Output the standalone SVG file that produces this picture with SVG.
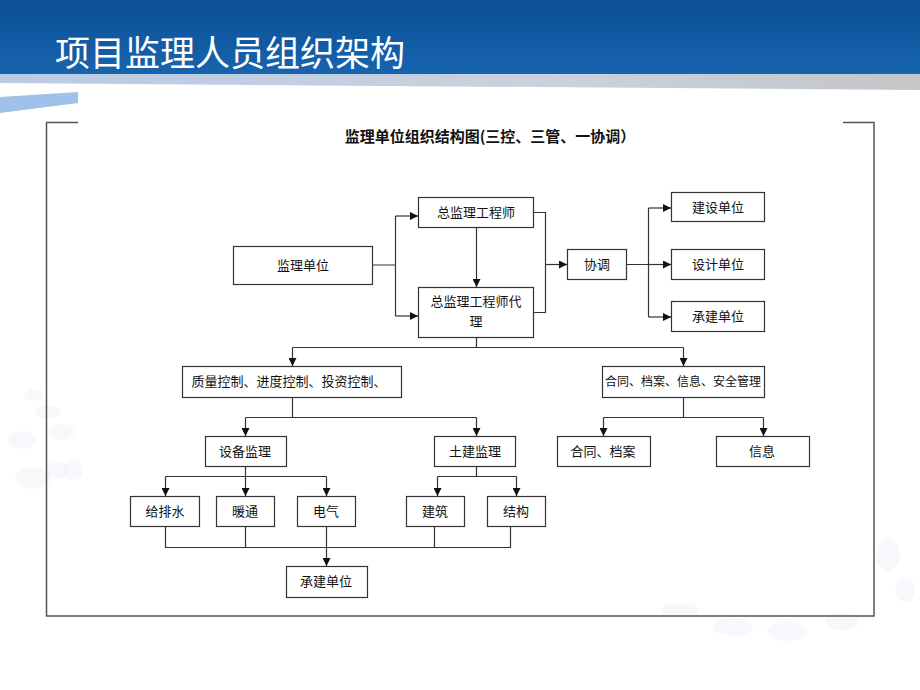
<svg xmlns="http://www.w3.org/2000/svg" width="920" height="690" viewBox="0 0 920 690">
<defs>
<linearGradient id="hdr" x1="0" y1="0" x2="0" y2="1">
<stop offset="0" stop-color="#0b4f96"/>
<stop offset="1" stop-color="#1764ae"/>
</linearGradient>
<linearGradient id="strip" x1="0" y1="0" x2="1" y2="0">
<stop offset="0" stop-color="#b9cbe3"/>
<stop offset="0.6" stop-color="#c9d2de"/>
<stop offset="1" stop-color="#c4c6c8"/>
</linearGradient>
<marker id="arr" viewBox="0 0 8 8" refX="8" refY="4" markerWidth="8" markerHeight="8" markerUnits="userSpaceOnUse" orient="auto">
<path d="M0,0 L8,4 L0,8 Z" fill="#111"/>
</marker>
</defs>
<style>
.box{fill:#fff;stroke:#333;stroke-width:1.2}
.t{font-family:"Noto Sans CJK SC","Noto Sans",sans-serif;font-size:13px;fill:#111;text-anchor:middle}
.ln{fill:none;stroke:#333;stroke-width:1.2}
.ar{fill:none;stroke:#333;stroke-width:1.2;marker-end:url(#arr)}
.frame{fill:none;stroke:#555;stroke-width:1.5}
.dot{fill:#eef2f8;opacity:0.5}
</style>
<rect width="920" height="690" fill="#fff"/>
<!-- header -->
<polygon points="0,0 920,0 920,90 0,83" fill="url(#strip)"/>
<rect x="0" y="0" width="920" height="74" fill="url(#hdr)"/>
<polygon points="0,97 78,92 78,103 0,113" fill="#9fc2ea"/>
<text x="55" y="66" font-family="'Noto Sans CJK SC','Noto Sans',sans-serif" font-size="35" fill="#fff">项目监理人员组织架构</text>
<!-- faint decoration -->
<g>
<ellipse class="dot" cx="22" cy="440" rx="14" ry="9"/>
<ellipse class="dot" cx="33" cy="478" rx="18" ry="11"/>
<ellipse class="dot" cx="58" cy="470" rx="12" ry="8"/>
<ellipse class="dot" cx="34" cy="395" rx="10" ry="6"/>
<ellipse class="dot" cx="48" cy="412" rx="12" ry="7"/>
<ellipse class="dot" cx="62" cy="432" rx="12" ry="8"/>
<ellipse class="dot" cx="73" cy="470" rx="10" ry="10"/>
<ellipse class="dot" cx="680" cy="610" rx="18" ry="7"/>
<ellipse class="dot" cx="733" cy="627" rx="20" ry="9"/>
<ellipse class="dot" cx="787" cy="631" rx="20" ry="10"/>
<ellipse class="dot" cx="842" cy="621" rx="17" ry="9"/>
<ellipse class="dot" cx="888" cy="555" rx="12" ry="16"/>
<ellipse class="dot" cx="905" cy="590" rx="10" ry="12"/>
</g>
<!-- frame -->
<path class="frame" d="M78,122.5 H46.5 V616 H874 V122.5 H843"/>
<text x="490" y="142" font-family="'Noto Sans CJK SC','Noto Sans',sans-serif" font-size="15" font-weight="bold" fill="#111" text-anchor="middle">监理单位组织结构图(三控、三管、一协调）</text>
<!-- connectors -->
<g id="connectors">
<path class="ln" d="M372,265 H395.5 M395.5,216 V316"/>
<path class="ar" d="M395.5,216 H418"/>
<path class="ar" d="M395.5,316 H418"/>
<path class="ar" d="M476.5,227 V287"/>
<path class="ln" d="M533,212.5 H545.5 V312.5 H533"/>
<path class="ar" d="M545.5,264.5 H567"/>
<path class="ln" d="M626,264.5 H648.5 M648.5,208 V317"/>
<path class="ar" d="M648.5,208 H671"/>
<path class="ar" d="M648.5,264.5 H671"/>
<path class="ar" d="M648.5,317 H671"/>
<path class="ln" d="M476.5,337 V347.5 M292.5,347.5 H683.5"/>
<path class="ar" d="M292.5,347.5 V366"/>
<path class="ar" d="M683.5,347.5 V366"/>
<path class="ln" d="M292.5,397 V417.5 M245.5,417.5 H476.5"/>
<path class="ar" d="M245.5,417.5 V436"/>
<path class="ar" d="M476.5,417.5 V436"/>
<path class="ln" d="M683.5,397 V417.5 M603.5,417.5 H763.5"/>
<path class="ar" d="M603.5,417.5 V436"/>
<path class="ar" d="M763.5,417.5 V436"/>
<path class="ln" d="M245.5,466 V476.5 M165.5,476.5 H326.5"/>
<path class="ar" d="M165.5,476.5 V496"/>
<path class="ar" d="M245.5,476.5 V496"/>
<path class="ar" d="M326.5,476.5 V496"/>
<path class="ln" d="M476.5,466 V476.5 M437.5,476.5 H516.5"/>
<path class="ar" d="M437.5,476.5 V496"/>
<path class="ar" d="M516.5,476.5 V496"/>
<path class="ln" d="M165.5,526 V547.5 H510.5 V526 M245.5,526 V547.5 M434.5,526 V547.5"/>
<path class="ar" d="M326.5,526 V566"/>
</g>
<!-- nodes -->
<g id="n-jldw"><rect class="box" x="233.5" y="246.5" width="139" height="38"/><text class="t" x="303" y="270">监理单位</text></g>
<g id="n-zjlgcs"><rect class="box" x="418.5" y="197.5" width="115" height="30"/><text class="t" x="476" y="217">总监理工程师</text></g>
<g id="n-zjldl"><rect class="box" x="418.5" y="287.5" width="115" height="50"/><text class="t" x="476" y="306">总监理工程师代</text><text class="t" x="476" y="326">理</text></g>
<g id="n-xt"><rect class="box" x="567.5" y="249.5" width="59" height="30"/><text class="t" x="597" y="269">协调</text></g>
<g id="n-jsdw"><rect class="box" x="671.5" y="192.5" width="93" height="29"/><text class="t" x="718" y="212">建设单位</text></g>
<g id="n-sjdw"><rect class="box" x="671.5" y="249.5" width="93" height="30"/><text class="t" x="718" y="269">设计单位</text></g>
<g id="n-cjdw1"><rect class="box" x="671.5" y="301.5" width="93" height="30"/><text class="t" x="718" y="321">承建单位</text></g>
<g id="n-zlkz"><rect class="box" x="182.5" y="366.5" width="219" height="31"/><text class="t" x="289" y="386">质量控制、进度控制、投资控制、</text></g>
<g id="n-htgl"><rect class="box" x="602.5" y="366.5" width="162" height="31"/><text class="t" x="683" y="386" style="font-size:12px">合同、档案、信息、安全管理</text></g>
<g id="n-sbjl"><rect class="box" x="205.5" y="436.5" width="81" height="30"/><text class="t" x="245" y="456">设备监理</text></g>
<g id="n-tjjl"><rect class="box" x="434.5" y="436.5" width="81" height="30"/><text class="t" x="475" y="456">土建监理</text></g>
<g id="n-htda"><rect class="box" x="557.5" y="436.5" width="93" height="30"/><text class="t" x="603" y="456">合同、档案</text></g>
<g id="n-xx"><rect class="box" x="716.5" y="436.5" width="93" height="30"/><text class="t" x="762" y="456">信息</text></g>
<g id="n-gps"><rect class="box" x="130.5" y="496.5" width="69" height="30"/><text class="t" x="165" y="516">给排水</text></g>
<g id="n-nt"><rect class="box" x="216.5" y="496.5" width="58" height="30"/><text class="t" x="245" y="516">暖通</text></g>
<g id="n-dq"><rect class="box" x="297.5" y="496.5" width="58" height="30"/><text class="t" x="326" y="516">电气</text></g>
<g id="n-jz"><rect class="box" x="406.5" y="496.5" width="58" height="30"/><text class="t" x="435" y="516">建筑</text></g>
<g id="n-jg"><rect class="box" x="487.5" y="496.5" width="58" height="30"/><text class="t" x="516" y="516">结构</text></g>
<g id="n-cjdw2"><rect class="box" x="286.5" y="566.5" width="81" height="31"/><text class="t" x="326" y="586">承建单位</text></g>
</svg>
